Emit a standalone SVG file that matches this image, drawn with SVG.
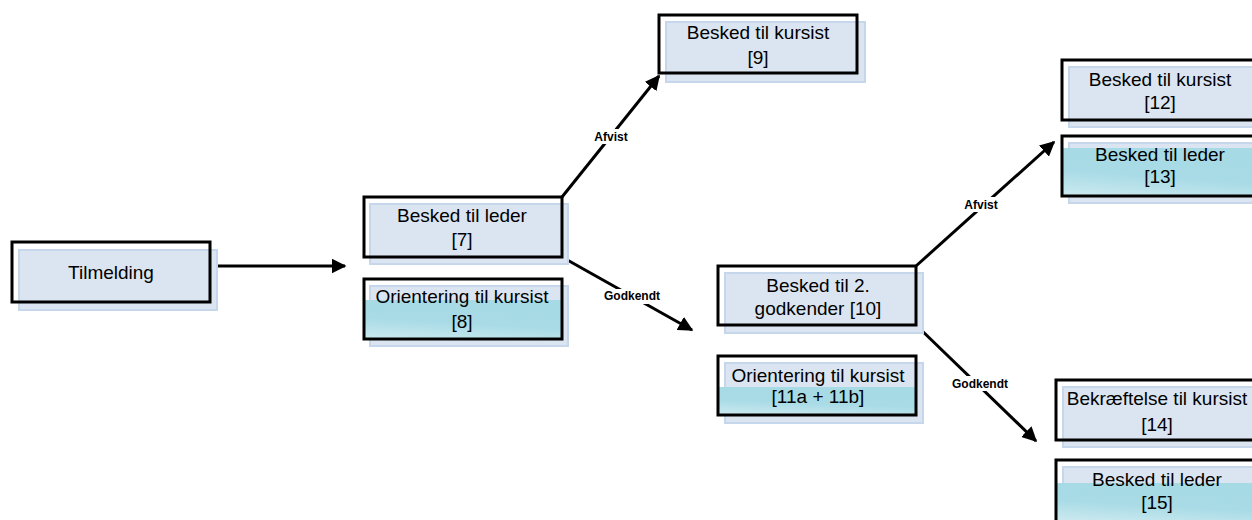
<svg xmlns="http://www.w3.org/2000/svg" width="1252" height="520" viewBox="0 0 1252 520">
<defs>
<style>
.sh{fill:#dbe5f1;stroke:#c6d6eb;stroke-width:2}
.bx{fill:none;stroke:#000;stroke-width:3}
.cy{fill:url(#cg)}
.t{font-family:"Liberation Sans",Arial,sans-serif;font-size:19px;fill:#000;text-anchor:middle}
.lb{font-family:"Liberation Sans",Arial,sans-serif;font-size:12px;font-weight:bold;fill:#000;text-anchor:middle}
.ln{stroke:#000;stroke-width:3;fill:none}
</style>
<linearGradient id="cg" x1="0" y1="1" x2="0.3" y2="0">
<stop offset="0" stop-color="#cbe9ef"/>
<stop offset="0.5" stop-color="#a8dbe6"/>
<stop offset="1" stop-color="#a6dae5"/>
</linearGradient>
<marker id="ah" markerWidth="5" markerHeight="5" refX="4.5" refY="2.5" orient="auto" markerUnits="strokeWidth">
<path d="M0,0 L5,2.5 L0,5 z" fill="#000"/>
</marker>
</defs>
<rect width="1252" height="520" fill="#fff"/>

<g id="connectors">
<line class="ln" x1="209" y1="266" x2="345" y2="266" marker-end="url(#ah)"/>
<line class="ln" x1="562" y1="197" x2="659" y2="76" marker-end="url(#ah)"/>
<line class="ln" x1="562" y1="257" x2="692" y2="330" marker-end="url(#ah)"/>
<line class="ln" x1="916" y1="266" x2="1054" y2="142" marker-end="url(#ah)"/>
<line class="ln" x1="916" y1="325" x2="1036" y2="441" marker-end="url(#ah)"/>
<rect x="591" y="129" width="40" height="15" fill="#fff"/>
<text class="lb" x="611" y="141">Afvist</text>
<rect x="604" y="289" width="56" height="15" fill="#fff"/>
<text class="lb" x="632" y="300">Godkendt</text>
<rect x="961" y="197" width="40" height="15" fill="#fff"/>
<text class="lb" x="981" y="209">Afvist</text>
<rect x="952" y="376" width="56" height="15" fill="#fff"/>
<text class="lb" x="980" y="388">Godkendt</text>
</g>

<g id="n-tilmelding">
<rect class="sh" x="19" y="250" width="198" height="60"/>
<rect class="bx" x="12" y="242" width="198" height="60"/>
<text class="t" x="111" y="279">Tilmelding</text>
</g>

<g id="n7">
<rect class="sh" x="370" y="204" width="198" height="60"/>
<rect class="bx" x="364" y="197" width="198" height="60"/>
<text class="t" x="462" y="222">Besked til leder</text>
<text class="t" x="462" y="246">[7]</text>
</g>

<g id="n8">
<rect class="sh" x="370" y="286" width="198" height="60"/>
<rect class="cy" x="365" y="300" width="196" height="38"/>
<rect class="bx" x="364" y="279" width="198" height="60"/>
<text class="t" x="462" y="303">Orientering til kursist</text>
<text class="t" x="462" y="328">[8]</text>
</g>

<g id="n9">
<rect class="sh" x="666" y="22" width="199" height="60"/>
<rect class="bx" x="659" y="15" width="198" height="58"/>
<text class="t" x="758" y="39">Besked til kursist</text>
<text class="t" x="758" y="64">[9]</text>
</g>

<g id="n10">
<rect class="sh" x="725" y="273" width="198" height="60"/>
<rect class="bx" x="718" y="266" width="198" height="59"/>
<text class="t" x="818" y="292">Besked til 2.</text>
<text class="t" x="818" y="315">godkender [10]</text>
</g>

<g id="n11">
<rect class="sh" x="725" y="363" width="198" height="60"/>
<rect class="cy" x="719" y="387" width="196" height="27"/>
<rect class="bx" x="718" y="356" width="198" height="59"/>
<text class="t" x="818" y="382">Orientering til kursist</text>
<text class="t" x="818" y="403">[11a + 11b]</text>
</g>

<g id="n12">
<rect class="sh" x="1069" y="67" width="190" height="60"/>
<rect class="bx" x="1062" y="60" width="192" height="60"/>
<text class="t" x="1160" y="86">Besked til kursist</text>
<text class="t" x="1160" y="109">[12]</text>
</g>

<g id="n13">
<rect class="sh" x="1069" y="143" width="190" height="60"/>
<rect class="cy" x="1063" y="148" width="190" height="47"/>
<rect class="bx" x="1062" y="136" width="192" height="60"/>
<text class="t" x="1160" y="161">Besked til leder</text>
<text class="t" x="1160" y="183">[13]</text>
</g>

<g id="n14">
<rect class="sh" x="1063" y="387" width="196" height="60"/>
<rect class="bx" x="1056" y="380" width="198" height="60"/>
<text class="t" x="1157" y="405">Bekræftelse til kursist</text>
<text class="t" x="1157" y="431">[14]</text>
</g>

<g id="n15">
<rect class="sh" x="1063" y="467" width="196" height="60"/>
<rect class="cy" x="1057" y="483" width="196" height="37"/>
<rect class="bx" x="1056" y="460" width="198" height="62"/>
<text class="t" x="1157" y="486">Besked til leder</text>
<text class="t" x="1157" y="509">[15]</text>
</g>
</svg>
